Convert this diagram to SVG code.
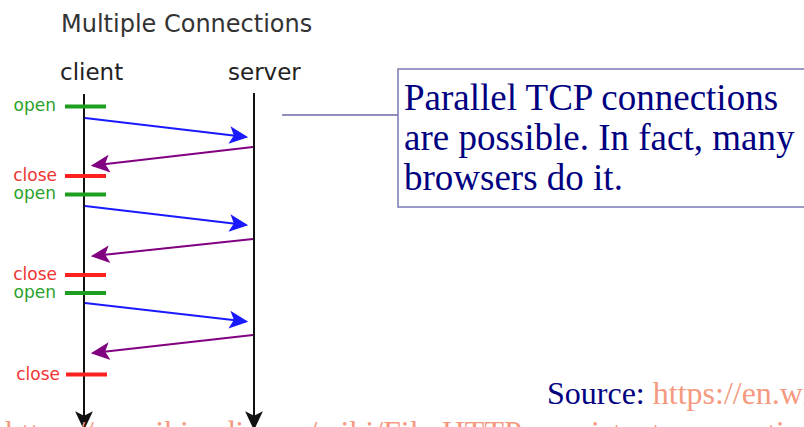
<svg xmlns="http://www.w3.org/2000/svg" width="804" height="427" viewBox="0 0 804 427">
<style>
.sans{font-family:"DejaVu Sans","Liberation Sans",sans-serif}
.serif{font-family:"Liberation Serif","Times New Roman",serif}
.life{stroke:#111;stroke-width:2;fill:none}
.req{stroke:#1a1aff;stroke-width:2;fill:none}
.res{stroke:#800080;stroke-width:2;fill:none}
.open{stroke:#1e9e1e;stroke-width:4}
.close{stroke:#ff2020;stroke-width:4}
.olbl{fill:#2aa22a;font-size:17px}
.clbl{fill:#f03434;font-size:17px}
.note{fill:#000080;font-size:37px}
.link{fill:#f59a80}
</style>
<defs>
<marker id="ahBlue" markerUnits="userSpaceOnUse" markerWidth="20" markerHeight="20" viewBox="0 -9 18 18" refX="15" refY="0" orient="auto"><path d="M17,0 L0,-8 L4,0 L0,8 Z" fill="#1a1aff"/></marker>
<marker id="ahPurple" markerUnits="userSpaceOnUse" markerWidth="20" markerHeight="20" viewBox="0 -9 18 18" refX="15" refY="0" orient="auto"><path d="M17,0 L0,-8 L4,0 L0,8 Z" fill="#800080"/></marker>
<marker id="ahBlack" markerUnits="userSpaceOnUse" markerWidth="20" markerHeight="20" viewBox="0 -9 18 18" refX="15" refY="0" orient="auto"><path d="M17,0 L0,-8 L4,0 L0,8 Z" fill="#111"/></marker>
</defs>
<rect width="804" height="427" fill="#fff"/>
<g id="title"><text class="sans" x="61" y="32" font-size="24" fill="#333">Multiple Connections</text></g>
<g id="client"><text class="sans" x="60" y="80" font-size="23" fill="#222">client</text></g>
<g id="server"><text class="sans" x="228" y="80" font-size="23" fill="#222">server</text></g>
<g id="connectors">
<line class="life" x1="84" y1="94" x2="84" y2="428" marker-end="url(#ahBlack)"/>
<line class="life" x1="254" y1="93" x2="254" y2="428" marker-end="url(#ahBlack)"/>
<line class="req" x1="85" y1="118" x2="246" y2="137" marker-end="url(#ahBlue)"/>
<line class="res" x1="253" y1="147" x2="93" y2="165.5" marker-end="url(#ahPurple)"/>
<line class="req" x1="85" y1="206" x2="246" y2="225" marker-end="url(#ahBlue)"/>
<line class="res" x1="253" y1="239" x2="93" y2="256" marker-end="url(#ahPurple)"/>
<line class="req" x1="85" y1="303" x2="246" y2="321.5" marker-end="url(#ahBlue)"/>
<line class="res" x1="253" y1="335" x2="93" y2="353" marker-end="url(#ahPurple)"/>
<line x1="282" y1="115" x2="398" y2="115" stroke="#6a6aaa" stroke-width="1.5"/>
</g>
<g id="open1"><line class="open" x1="65" y1="106.5" x2="106" y2="106.5"/><text class="sans olbl" x="56" y="111" text-anchor="end">open</text></g>
<g id="close1"><line class="close" x1="65" y1="176" x2="106" y2="176"/><text class="sans clbl" x="57" y="181" text-anchor="end">close</text></g>
<g id="open2"><line class="open" x1="65" y1="194.5" x2="106" y2="194.5"/><text class="sans olbl" x="56" y="199" text-anchor="end">open</text></g>
<g id="close2"><line class="close" x1="65" y1="275" x2="106" y2="275"/><text class="sans clbl" x="57" y="280" text-anchor="end">close</text></g>
<g id="open3"><line class="open" x1="65" y1="293" x2="106" y2="293"/><text class="sans olbl" x="56" y="298" text-anchor="end">open</text></g>
<g id="close3"><line class="close" x1="66" y1="374.5" x2="107" y2="374.5"/><text class="sans clbl" x="60" y="379.5" text-anchor="end">close</text></g>
<g id="note">
<rect x="398" y="69" width="420" height="138" fill="#fff" stroke="#7a7ab4" stroke-width="1.5"/>
<text class="serif note" x="404" y="110">Parallel TCP connections</text>
<text class="serif note" x="404" y="150">are possible. In fact, many</text>
<text class="serif note" x="404" y="190">browsers do it.</text>
</g>
<g id="source">
<text class="serif" x="547" y="404" font-size="32"><tspan fill="#000080">Source: </tspan><tspan class="link">https://en.wi</tspan></text>
<text class="serif link" x="5" y="443" font-size="32">https://en.wikipedia.org/wiki/File:HTTP_persistent_connection</text>
</g>
</svg>
